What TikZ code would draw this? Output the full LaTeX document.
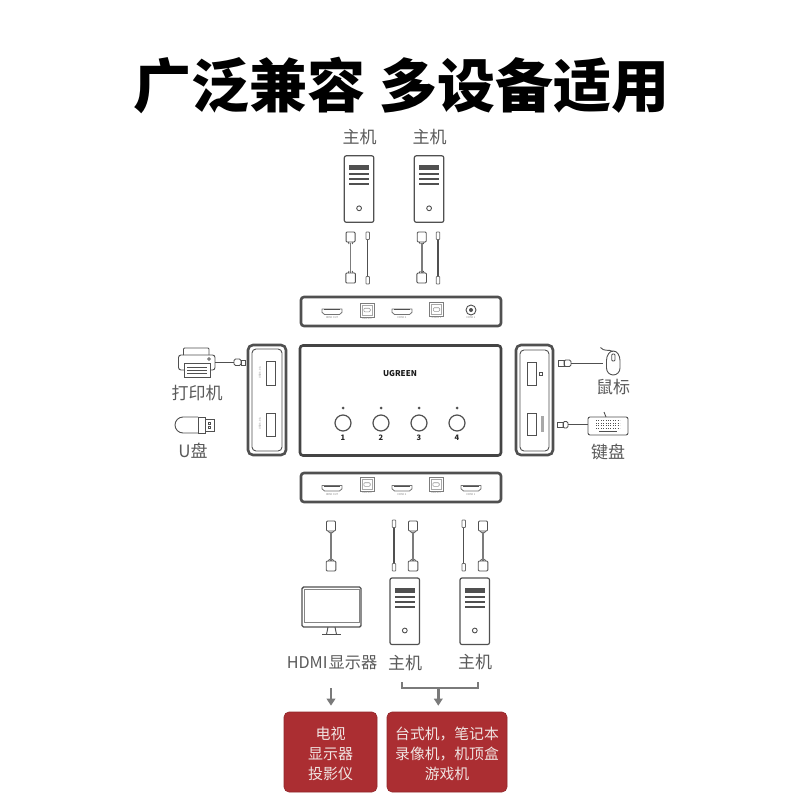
\documentclass[tikz,border=0pt]{standalone}
\usepackage{fontspec}
\setmainfont{Noto Sans CJK SC}
\usetikzlibrary{arrows.meta}
\definecolor{ink}{HTML}{505050}
\definecolor{lbl}{HTML}{5A5A5A}
\definecolor{redbox}{HTML}{AB2E32}
\definecolor{redtxt}{HTML}{F0E4E2}
\definecolor{arr}{HTML}{7A7A7A}
\tikzset{
  panel/.style={draw=ink,line width=2.6pt,rounded corners=3pt,fill=white},
  thin part/.style={draw=ink,line width=.9pt},
  med part/.style={draw=ink,line width=1.2pt},
  label text/.style={text=lbl,font=\fontsize{17}{20}\selectfont,inner sep=0pt},
  tiny text/.style={text=ink!70,font=\fontsize{2.6}{3}\selectfont,inner sep=0pt},
  red panel/.style={fill=redbox,draw=redbox!85!black,line width=.6pt,rounded corners=5pt,inner sep=0pt},
  red text/.style={text=redtxt,font=\fontsize{15}{20}\selectfont,align=center,inner sep=0pt},
  flow line/.style={draw=arr,line width=2.4pt},
  flow arrow/.style={draw=arr,line width=2.4pt,-{Triangle[length=7pt,width=8.5pt]}},
  num text/.style={text=black!85,font=\bfseries\fontsize{7.5}{8}\selectfont,inner sep=0pt}
}
% x,y = top-left corner of a tower
\newcommand{\towerpc}[2]{\begin{scope}[shift={(#1,#2)}]
  \draw[med part,rounded corners=2pt] (0,0) rectangle (29.5,66.5);
  \fill[ink] (4.8,9.5) rectangle (24.8,14.5);
  \foreach \yy in {18.5,23.5,28.5}{\draw[ink,line width=2pt] (4.8,\yy) -- (24.8,\yy);}
  \draw[thin part] (14.8,52.5) circle (2.4);
\end{scope}}
% x,y = centre of a port
\newcommand{\hdmiport}[3]{\begin{scope}[shift={(#1,#2)}]
  \draw[ink!80,line width=.8pt,line join=round] (-10,-2.5) -- (10,-2.5) -- (10,.8) -- (7.5,3) -- (-7.5,3) -- (-10,.8) -- cycle;
  \draw[ink,line width=1pt] (-8,-1.6) -- (8,-1.6);
  \node[tiny text] at (0,6.5) {#3};
\end{scope}}
\newcommand{\usbport}[3]{\begin{scope}[shift={(#1,#2)}]
  \draw[ink!75,line width=.7pt] (-7,-7) rectangle (7,7);
  \draw[ink!50,line width=.5pt] (-5.2,-5.2) rectangle (5.2,5.2);
  \draw[ink!60,line width=.6pt,rounded corners=1pt] (-3.2,-1.8) rectangle (3.2,1.8);
  \node[tiny text] at (0,8.5) {#3};
\end{scope}}
% x = axis, y = top, third = length
\newcommand{\hdmicable}[3]{\begin{scope}[shift={(#1,#2)}]
  \draw[draw=ink!75,line width=1.7pt] (0,10.5) -- (0,#3-10.5);
  \draw[thin part,rounded corners=1pt,fill=white] (-4.5,0) rectangle (4.5,10);
  \draw[ink,line width=.8pt] (-2.5,10) -- (-1.5,12) (2.5,10) -- (1.5,12);
  \draw[thin part,rounded corners=1pt,fill=white] (-4.8,#3-10) rectangle (4.8,#3);
  \draw[ink,line width=.8pt] (-2.5,#3-10) -- (-1.5,#3-12) (2.5,#3-10) -- (1.5,#3-12);
\end{scope}}
\newcommand{\usbcable}[3]{\begin{scope}[shift={(#1,#2)}]
  \draw[ink,line width=1.1pt] (0,8) -- (0,#3-8);
  \draw[ink!85,line width=.8pt,rounded corners=.6pt,fill=white] (-1.7,0) rectangle (1.7,7.5);
  \draw[ink!85,line width=.8pt,rounded corners=.6pt,fill=white] (-1.7,#3-7.5) rectangle (1.7,#3);
\end{scope}}
\begin{document}
\begin{tikzpicture}[x=1pt,y=-1pt]
\useasboundingbox (0,0) rectangle (800,800);
\fill[white] (0,0) rectangle (800,800);
% title
\node[inner sep=0pt,text=black,font=\bfseries\fontsize{58}{60}\selectfont] (title) at (401.5,85.5) {广泛兼容\hspace{15pt}多设备适用};
% top hosts
\node[label text] (hostA) at (359.5,137.5) {主机};
\node[label text] (hostB) at (429.5,137.5) {主机};
\towerpc{344.3}{155.8}
\towerpc{414.3}{155.8}
\hdmicable{350.6}{232}{51}
\usbcable{367.7}{232}{52}
\hdmicable{421.7}{232}{51}
\usbcable{438}{232}{52}
% top panel
\node[panel,minimum width=200pt,minimum height=29pt,inner sep=0pt] (toppanel) at (401,311.5) {};
\hdmiport{332}{311.5}{HDMI OUT}
\usbport{367}{310}{USB-B 2}
\hdmiport{402}{311.5}{HDMI 2}
\usbport{436.5}{309.5}{USB-B 1}
\draw[thin part] (471,310) circle (5);
\fill[ink] (471,310) circle (2);
\node[tiny text] at (471,318) {HDMI 1};
% main box
\node[panel,minimum width=201pt,minimum height=110pt,inner sep=0pt,draw=ink!85!black] (mainbox) at (400.5,400.5) {};
\node[inner sep=0pt,text=black!90,font=\bfseries\fontsize{8}{8}\selectfont] (brand) at (400,374) {UGREEN};
\foreach \xx/\nn in {343/1,381/2,419/3,457/4}{
  \fill[ink] (\xx,408) circle (1.5);
  \draw[ink,line width=1.2pt] (\xx,423) circle (8);
  \node[num text] at (\xx,438) {\nn};
}
% bottom panel
\node[panel,minimum width=200pt,minimum height=29pt,inner sep=0pt] (botpanel) at (401,487.5) {};
\hdmiport{332}{488}{HDMI OUT}
\usbport{367}{484.5}{USB-B 2}
\hdmiport{402}{488}{HDMI 2}
\usbport{436}{484.5}{USB-B 1}
\hdmiport{471}{488}{HDMI 1}
% left panel
\node[panel,rounded corners=5pt,minimum width=38pt,minimum height=110pt,inner sep=0pt] (leftpanel) at (267,400) {};
\draw[thin part,rounded corners=4pt] (252,349) rectangle (282,451);
\draw[thin part] (266,361) rectangle (275,385);
\draw[thin part] (266,413) rectangle (275,436);
\node[tiny text,rotate=90] at (260,373) {USB 3.0 A};
\node[tiny text,rotate=90] at (260,424) {USB 3.0 A};
% printer
\draw[thin part,rounded corners=1pt] (183.5,355) -- (183.5,348) -- (209,348) -- (209,355);
\draw[thin part,rounded corners=2.5pt] (184,370) -- (178.5,370) -- (178.5,355) -- (215,355) -- (215,370) -- (210,370);
\draw[thin part,fill=white] (184,363) rectangle (210,377);
\foreach \yy in {367,370,373}{\draw[ink,line width=.7pt] (187,\yy) -- (207,\yy);}
\draw[ink,line width=.7pt] (209,359) circle (1.3);
\coordinate (printerport) at (215,362);
\draw[thin part,rounded corners=1.5pt] (234,359) rectangle (241,365.5);
\draw[thin part] (241,360) rectangle (245,365);
\coordinate (printerplug) at (234,362);
\draw[thin part] (printerport) -- (printerplug);
\node[label text] (printerlbl) at (197,393) {打印机};
% U disk
\draw[thin part] (198,417) -- (183,417) arc[start angle=-90,end angle=-270,radius=8] -- (198,433);
\draw[thin part] (198,417) rectangle (205,433);
\draw[thin part] (205,419) rectangle (214,431);
\draw[ink,line width=.6pt] (208,422) rectangle (210.5,424.5) (208,426) rectangle (210.5,428.5);
\node[label text] (ulbl) at (193,451) {U盘};
% right panel
\node[panel,rounded corners=5pt,minimum width=37pt,minimum height=110pt,inner sep=0pt] (rightpanel) at (534.5,400) {};
\draw[thin part,rounded corners=4pt] (520,350) rectangle (549,451);
\draw[thin part] (527,362) rectangle (536,385);
\draw[thin part] (527,413) rectangle (536,435);
\draw[ink,line width=.6pt] (539.5,372.5) rectangle (542.5,375.5);
\fill[ink!50] (541,416) rectangle (544,432);
% mouse
\draw[thin part] (558.5,360.5) rectangle (564,366);
\draw[thin part,rounded corners=1.5pt] (564,360) rectangle (571,366.5);
\coordinate (mouseplug) at (571,363);
\draw[thin part] (606.5,360.5) arc[start angle=180,end angle=360,x radius=6.75,y radius=9.5] -- (620,368) arc[start angle=0,end angle=180,x radius=6.75,y radius=7] -- cycle;
\draw[thin part,fill=white,rounded corners=1pt] (611.7,354) rectangle (615,361);
\draw[thin part] (600.5,347.5) .. controls (604,352) and (609,349) .. (613,351.5);
\coordinate (mouseend) at (603,363);
\draw[thin part] (mouseplug) -- (mouseend);
\node[label text] (mouselbl) at (613,387) {鼠标};
% keyboard
\node[draw=ink,line width=.9pt,rounded corners=2pt,minimum width=40pt,minimum height=18pt,inner sep=0pt] (kbd) at (608,426) {};
\draw[thin part] (604,412) -- (606,417);
\foreach \yy in {420.5,423,425.5,428}{\draw[ink,line width=1pt,dash pattern=on 1pt off 1.4pt] (596,\yy) -- (620,\yy);}
\draw[ink,line width=1pt] (599,431) -- (617,431);
\draw[thin part] (557,422) rectangle (563,427.5);
\draw[thin part,rounded corners=1.5pt] (563,421.5) rectangle (568,428);
\coordinate (kbdplug) at (568,424.5);
\draw[thin part] (kbdplug) -- (kbd.west |- kbdplug);
\node[label text] (kbdlbl) at (608,452) {键盘};
% bottom cables
\hdmicable{331}{521}{50}
\usbcable{394}{520}{51}
\hdmicable{413}{521}{50}
\usbcable{463.7}{520}{51}
\hdmicable{483}{521}{50}
% monitor
\draw[draw=ink,line width=1.4pt,rounded corners=1.5pt] (302,587) rectangle (361,627);
\draw[ink!70,line width=.6pt] (304,589) rectangle (359,622);
\draw[thin part] (328,627) -- (326.5,634.5) (335,627) -- (336.5,634.5);
\draw[ink,line width=1.3pt] (322,634.8) -- (341,634.8);
% bottom hosts
\towerpc{390}{578}
\towerpc{460}{578}
\node[label text,font=\fontsize{16.2}{20}\selectfont] (hdmilbl) at (332,662.5) {HDMI\hspace{1pt}显示器};
\node[label text] (hostC) at (405,663) {主机};
\node[label text] (hostD) at (475,662.5) {主机};
% red boxes
\node[red panel,minimum width=93pt,minimum height=80pt] (redA) at (330.5,752) {};
\node[red panel,minimum width=120pt,minimum height=80pt] (redB) at (447,752) {};
\node[red text] (redAtext) at (330.5,754) {电视\\显示器\\投影仪};
\node[red text,font=\fontsize{14.8}{20}\selectfont] (redBtext) at (447,754) {台式机，笔记本\\录像机，机顶盒\\游戏机};
% arrows
\coordinate (braceL) at (402,682);
\coordinate (braceR) at (478,682);
\draw[flow line] (braceL) |- (440,688) -| (braceR);
\coordinate (braceM) at (438.3,688);
\draw[flow arrow] (braceM) -- ([yshift=6pt]redB.north -| braceM);
\coordinate (leftstart) at (331,688);
\draw[flow arrow] (leftstart) -- ([yshift=6pt]redA.north -| leftstart);
\end{tikzpicture}
\end{document}
